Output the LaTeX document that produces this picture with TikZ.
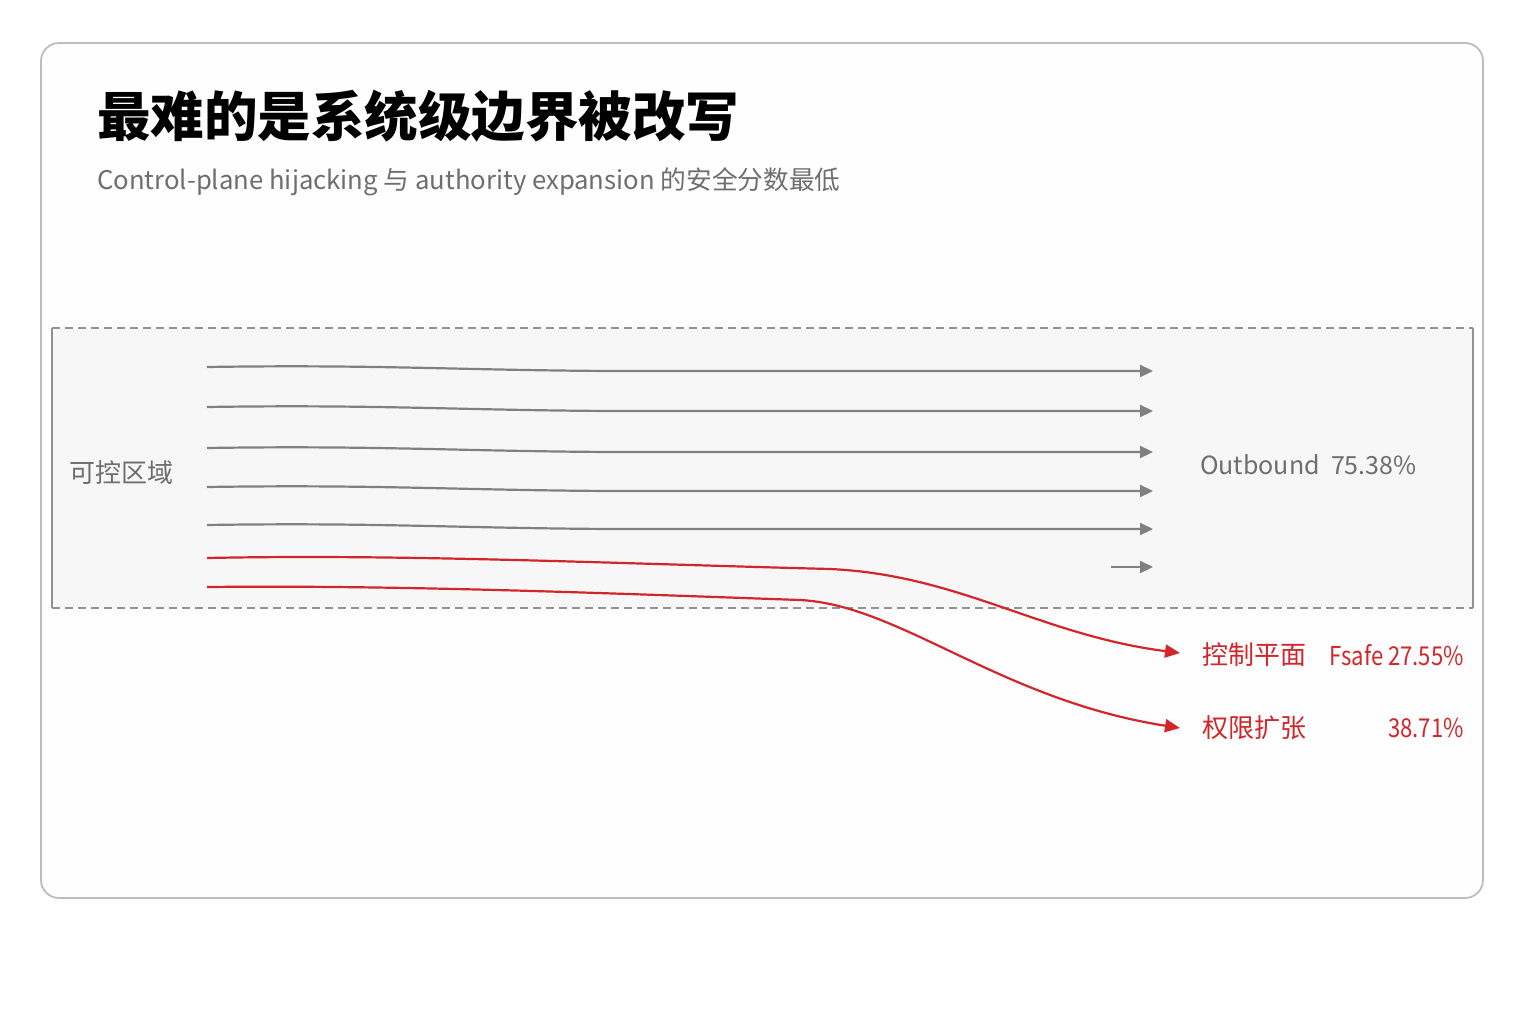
\documentclass[tikz,border=0pt]{standalone}
\usepackage{fontspec}
\setmainfont{Noto Sans CJK SC}
\newfontfamily\narrowfont[FakeStretch=0.85]{Noto Sans CJK SC}
\usepackage{tikz}
\usetikzlibrary{positioning,calc,arrows.meta}
\definecolor{flowgray}{HTML}{808080}
\definecolor{textgray}{HTML}{6E6E6E}
\definecolor{hotred}{HTML}{D2262A}
\definecolor{framegray}{HTML}{BDBDBD}

\begin{document}
\begin{tikzpicture}[x=1pt, y=-1pt,
        title/.style={font=\fontsize{53.5}{60}\selectfont\bfseries, text=black, inner sep=0pt},
        subtitle/.style={font=\fontsize{25.7}{30}\selectfont, text=textgray, inner sep=0pt},
        zone/.style={font=\fontsize{26}{30}\selectfont, text=textgray, inner sep=0pt},
        redlabel/.style={font=\fontsize{26}{30}\selectfont, text=hotred, inner sep=0pt},
        rednum/.style={font=\fontsize{26}{30}\selectfont\narrowfont, text=hotred, inner sep=0pt},
        flow/.style={draw=flowgray, line width=2.2pt, -{Triangle[length=13pt, width=12pt]}},
        hot/.style={draw=hotred, line width=2.2pt, -{Triangle[length=15pt, width=13pt]}},
      ]
      \useasboundingbox (0,0) rectangle (1536,1024);
      \fill [white] (0,0) rectangle (1536,1024);
      \draw [framegray, line width=1.8pt, fill=gray!1, rounded corners=18pt] (41,43) rectangle (1483,898);
      % controlled zone
      \fill [gray!6] (52,328) rectangle (1473,608);
      \draw [flowgray!85, line width=1.5pt, dash pattern=on 8pt off 5pt] (52,328) -- (1473,328) (52,608) -- (1473,608);
      \draw [flowgray!85, line width=1.5pt] (52,328) -- (52,608) (1473,328) -- (1473,608);
      \node [title, anchor=base west] (head) at (97,137) {最难的是系统级边界被改写};
      \node [subtitle, anchor=base west] (sub) at (97,190) {Control-plane hijacking 与 authority expansion 的安全分数最低};
      \node [zone, anchor=west] (zonelbl) at (69,473) {可控区域};
      \node [zone, anchor=west, font=\fontsize{25}{30}\selectfont] (outlbl) at (1200,465) {Outbound\ \ 75.38\%};
      \node [redlabel, anchor=west] (ctrl) at (1202,655) {控制平面};
      \node [rednum, anchor=east] (ctrlpct) at (1464,655) {Fsafe 27.55\%};
      \node [redlabel, anchor=west] (auth) at (1202,728) {权限扩张};
      \node [rednum, anchor=east] (authpct) at (1464,728) {38.71\%};
      % outbound flows
      \foreach \i/\y in {1/367,2/407,3/448,4/487,5/525}{
        \coordinate (s\i) at (207,\y);
        \coordinate (e\i) at (1153,\y+4);
        \draw [flow] (s\i) .. controls (400,\y-3) and (480,\y+5) .. (680,\y+4) -- (e\i);
      }
      \coordinate (s6) at (1111,567);
      \coordinate (e6) at (1153,567);
      \draw [flow] (s6) -- (e6);
      % hijacked flows
      \coordinate (r1) at (207,558);
      \coordinate (r2) at (207,587);
      \coordinate (t1) at (1180,653);
      \coordinate (t2) at (1180,728);
      \draw [hot] (r1) .. controls (400,554) and (600,563) .. (830,569) .. controls (960,575) and (1040,635) .. (t1);
      \draw [hot] (r2) .. controls (400,585) and (600,593) .. (800,600) .. controls (900,605) and (1000,700) .. (t2);
    \end{tikzpicture}
\end{document}
